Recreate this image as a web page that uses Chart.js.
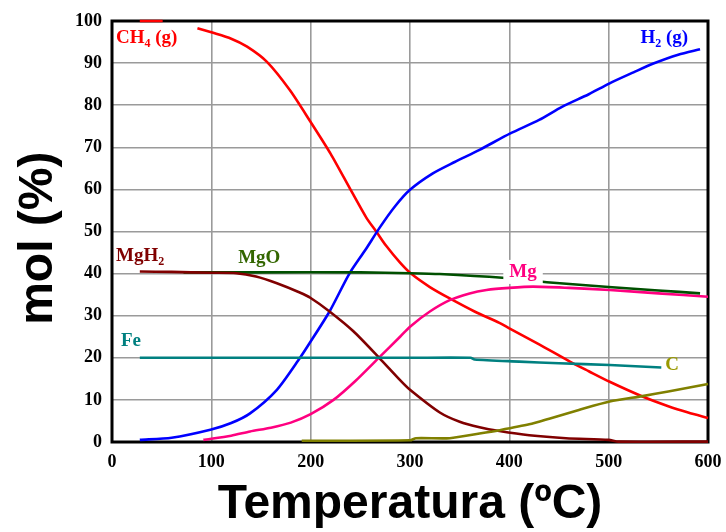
<!DOCTYPE html>
<html>
<head>
<meta charset="utf-8">
<script src="https://cdn.jsdelivr.net/npm/chart.js@4/dist/chart.umd.min.js"></script>
<style>
html,body{margin:0;padding:0;background:#fff;}
#wrap{width:726px;height:532px;}
</style>
</head>
<body>
<div id="wrap"><canvas id="c" width="726" height="532"></canvas></div>
<script>
// ---- data (temperature °C, mol %) ----
const xTicks = [0, 100, 200, 300, 400, 500, 600];
const yTicks = [0, 10, 20, 30, 40, 50, 60, 70, 80, 90, 100];

const ch4 = [[28,100],[51,100],[null,null],[86,98.3],[100,97.3],[120,95.8],[136,93.9],[156,90.3],[179,83.6],[200,76],[220,68.5],[240,60],[256,53.3],[266,50],[276,46.6],[290,42.6],[301,40],[320,36.8],[340,34.1],[365,31],[390,28.3],[400,27],[430,23.2],[461,19.1],[480,16.8],[501,14.3],[534,10.8],[560,8.5],[580,7],[600,5.7]];
const h2 = [[28,0.5],[60,1],[99,2.9],[120,4.5],[139,6.8],[166,12.4],[189,19.9],[199,23.5],[219,31],[239,40],[255,45.6],[270,51.1],[285,56],[300,59.9],[323,63.8],[345,66.5],[370,69.4],[401,73.3],[430,76.5],[453,79.6],[480,82.6],[501,85.2],[525,87.8],[545,89.9],[570,92],[592,93.3]];
const mgh2 = [[28,40.5],[60,40.4],[100,40.2],[125,40.1],[145,39.3],[166,37.7],[189,35.5],[200,34.2],[219,31],[243,26.3],[269,20],[290,14.7],[300,12.4],[330,7],[350,4.8],[370,3.5],[390,2.6],[420,1.6],[457,0.9],[500,0.5],[510,0.1],[600,0.1]];
const mgo = [[72,40.3],[150,40.3],[250,40.3],[300,40.1],[330,39.9],[393,39.0],[441,37.9],[500,36.8],[550,36],[592,35.3]];
const mg = [[92,0.5],[120,1.5],[139,2.5],[160,3.4],[180,4.6],[200,6.6],[223,10],[245,14.5],[269,20.1],[290,25],[300,27.4],[320,31],[340,33.7],[360,35.3],[377,36.1],[400,36.6],[424,36.9],[460,36.6],[501,36.1],[550,35.3],[600,34.5]];
const fe = [[28,20],[100,20],[200,20],[300,20],[361,20],[365,19.6],[410,19.1],[450,18.7],[501,18.3],[553,17.7]];
const carbon = [[191,0.3],[300,0.4],[306,0.9],[340,0.9],[370,2.0],[390,2.8],[420,4.2],[441,5.6],[470,7.6],[501,9.6],[534,10.9],[560,12],[600,13.8]];

// series labels: text parts [text, isSubscript], anchor in data units
const seriesLabels = [
  {parts:[['CH',0],['4',1],[' (g)',0]], x:4, y:96, color:'#ff0000'},
  {parts:[['H',0],['2',1],[' (g)',0]], x:532, y:96, color:'#0000ff'},
  {parts:[['MgH',0],['2',1]], x:4, y:44.2, color:'#800000'},
  {parts:[['MgO',0]], x:127, y:43.7, color:'#336600'},
  {parts:[['Fe',0]], x:9, y:24, color:'#008080'},
  {parts:[['Mg',0]], x:400, y:40.4, color:'#ff0080', bg:true},
  {parts:[['C',0]], x:557, y:18.2, color:'#999900'}
];

const toXY = arr => arr.map(p => ({x:p[0], y:p[1]}));

function ds(label, arr, color, width) {
  return {label, data: toXY(arr), borderColor: color, backgroundColor: color,
    borderWidth: width || 2.6, pointRadius: 0, tension: 0.25, fill: false, spanGaps: false, clip: 4};
}

const framePlugin = {
  id: 'frame',
  beforeDatasetsDraw(chart) {
    const {ctx, chartArea: a} = chart;
    ctx.save();
    ctx.strokeStyle = '#000';
    ctx.lineWidth = 3;
    ctx.strokeRect(a.left, a.top, a.right - a.left, a.bottom - a.top);
    ctx.restore();
  }
};

const labelPlugin = {
  id: 'seriesLabels',
  afterDatasetsDraw(chart) {
    const {ctx} = chart;
    const xs = chart.scales.x, ys = chart.scales.y;
    const mainFont = 'bold 19px "Liberation Serif", "Times New Roman", serif';
    const subFont = 'bold 12px "Liberation Serif", "Times New Roman", serif';
    ctx.save();
    ctx.textBaseline = 'middle';
    ctx.textAlign = 'left';
    seriesLabels.forEach(l => {
      const px = xs.getPixelForValue(l.x), py = ys.getPixelForValue(l.y);
      let w = 0;
      l.parts.forEach(p => { ctx.font = p[1] ? subFont : mainFont; w += ctx.measureText(p[0]).width; });
      if (l.bg) {
        ctx.fillStyle = '#fff';
        ctx.fillRect(px - 6, py - 12, w + 12, 24);
      }
      let cx = px;
      ctx.fillStyle = l.color;
      l.parts.forEach(p => {
        ctx.font = p[1] ? subFont : mainFont;
        ctx.fillText(p[0], cx, p[1] ? py + 6 : py);
        cx += ctx.measureText(p[0]).width;
      });
    });
    ctx.restore();
  }
};

const tickFont = {family: '"Liberation Serif", "Times New Roman", serif', size: 18, weight: 'bold'};
const titleFont = {family: '"Liberation Sans", Arial, sans-serif', size: 48, weight: 'bold', lineHeight: 1};

new Chart(document.getElementById('c'), {
  type: 'line',
  data: {
    datasets: [
      ds('Fe', fe, '#008080'),
      ds('C', carbon, '#808000'),
      ds('MgH2', mgh2, '#800000'),
      ds('MgO', mgo, '#005000'),
      ds('Mg', mg, '#ff0080'),
      ds('H2', h2, '#0000ff'),
      ds('CH4', ch4, '#ff0000')
    ]
  },
  options: {
    responsive: false,
    animation: false,
    devicePixelRatio: 1,
    layout: {padding: {top: 21, right: 18, left: 0, bottom: 0}},
    plugins: {legend: {display: false}, tooltip: {enabled: false}},
    scales: {
      x: {
        type: 'linear', min: 0, max: 600,
        afterBuildTicks: s => { s.ticks = xTicks.map(v => ({value: v})); },
        afterFit: s => { s.height = 90; s.paddingLeft = 0; s.paddingRight = 0; },
        grid: {color: '#9a9a9a', lineWidth: 1.6, drawTicks: false},
        border: {display: false},
        ticks: {font: tickFont, color: '#000', padding: 10, maxRotation: 0},
        title: {display: true, text: 'Temperatura (ºC)', font: titleFont, color: '#000', padding: {top: 0, bottom: 3}}
      },
      y: {
        type: 'linear', min: 0, max: 100,
        afterBuildTicks: s => { s.ticks = yTicks.map(v => ({value: v})); },
        afterFit: s => { s.width = 112; s.paddingTop = 0; s.paddingBottom = 0; },
        grid: {color: '#9a9a9a', lineWidth: 1.6, drawTicks: false},
        border: {display: false},
        ticks: {font: tickFont, color: '#000', padding: 10},
        title: {display: true, text: 'mol (%) ', font: titleFont, color: '#000', padding: {top: 15, bottom: 0}}
      }
    }
  },
  plugins: [framePlugin, labelPlugin]
});
</script>
</body>
</html>
